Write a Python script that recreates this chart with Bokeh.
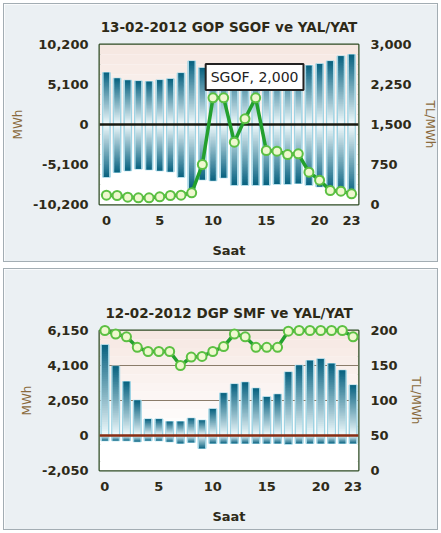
import numpy as np
from bokeh.plotting import figure
from bokeh.models import (Range1d, LinearAxis, FixedTicker, NumeralTickFormatter,
                          Label, BoxAnnotation, Span, ColumnDataSource)
from bokeh.layouts import column
from bokeh.embed import file_html
from bokeh.resources import INLINE

# ---------------- data ----------------
hours = list(range(24))
x_ticks = [0, 5, 10, 15, 20, 23]

top_title = "13-02-2012 GOP SGOF ve YAL/YAT"
top_yal = [6600, 5850, 5600, 5500, 5450, 5650, 5800, 6550, 8050, 7200, 7100, 7200,
           7300, 7300, 7300, 7300, 7300, 7400, 7400, 7500, 7700, 8050, 8700, 8900]
top_yat = [-6700, -6100, -5850, -5650, -5750, -5850, -6000, -6700, -8200, -7000, -7150, -6750,
           -7700, -7700, -7700, -7700, -7600, -7600, -7500, -7700, -7900, -8300, -8700, -9000]
top_sgof = [175, 169, 137, 125, 125, 144, 169, 175, 219, 750, 2000, 2000,
            1169, 1606, 2000, 1012, 1000, 937, 950, 606, 456, 262, 250, 200]
top_left_ticks = [-10200, -5100, 0, 5100, 10200]
top_right_ticks = [0, 750, 1500, 2250, 3000]
top_tooltip = "SGOF, 2,000"

bot_title = "12-02-2012 DGP SMF ve YAL/YAT"
bot_yal = [5300, 4050, 3150, 2050, 950, 950, 800, 800, 1000, 880, 1550, 2480,
           3000, 3100, 2750, 2250, 2400, 3700, 4100, 4380, 4480, 4200, 3800, 2950]
bot_yat = [-300, -300, -300, -350, -300, -300, -350, -450, -400, -750, -450, -450,
           -450, -450, -450, -450, -450, -500, -450, -450, -450, -450, -450, -450]
bot_smf = [200, 195, 191, 176, 170, 170, 170, 150, 162, 163, 170, 177,
           195, 191, 176, 176, 176, 199, 200, 200, 200, 200, 200, 191]
bot_left_ticks = [-2050, 0, 2050, 4100, 6150]
bot_right_ticks = [0, 50, 100, 150, 200]

FONT = "DejaVu Sans"
TEXT_DARK = "#2e2a18"
AX_BROWN = "#8a6a3c"


def lerp_hex(c0, c1, f):
    r = [int(round(a + (b - a) * f)) for a, b in zip(c0, c1)]
    return "#%02x%02x%02x" % tuple(r)


def grad_source(x, vals, n=40):
    xs, tops, bots, cols = [], [], [], []
    light = (244, 252, 254)
    dark = (8, 98, 128)
    for xi, v in zip(x, vals):
        for k in range(n):
            a = v * k / n
            b = v * min(k + 2.0, n) / n   # overlap to hide seams
            f = ((k + 0.5) / n) ** 0.95
            xs.append(xi)
            bots.append(a)
            tops.append(b)
            cols.append(lerp_hex(light, dark, f))
    return ColumnDataSource(dict(x=xs, top=tops, bottom=bots, color=cols))


def make_chart(title, yal, yat, line_vals, left_ticks, right_ticks, xpad,
               width, height, borders, zero_color, grid_vals, core_w, out_w):
    lo, hi = left_ticks[0], left_ticks[-1]
    p = figure(width=width, height=height, output_backend="svg", toolbar_location=None,
               x_range=Range1d(-xpad, 23 + xpad), y_range=Range1d(lo, hi),
               min_border_left=borders[0], min_border_right=borders[1],
               min_border_top=borders[2], min_border_bottom=borders[3],
               title=title)
    p.extra_y_ranges = {"right": Range1d(right_ticks[0], right_ticks[-1])}
    p.border_fill_color = "#ebf0f3"
    p.background_fill_color = "white"
    p.outline_line_color = "#2c4a22"
    p.outline_line_width = 2
    p.styles = {"border": "1px solid #a3adb3"}

    p.title.align = "center"
    p.title.text_font = FONT
    p.title.text_font_style = "bold"
    p.title.text_font_size = "13.5px"
    p.title.text_color = TEXT_DARK
    p.title.standoff = 20

    # background gradient bands (pink top -> white)
    nb = 16
    for i in range(nb):
        t = hi - (hi - lo) * i / nb
        b = hi - (hi - lo) * (i + 1) / nb
        f = min(1.0, i / (nb * 0.7))
        col = lerp_hex((246, 232, 226), (255, 255, 255), f)
        p.add_layout(BoxAnnotation(top=t, bottom=b, fill_color=col, fill_alpha=1,
                                   line_alpha=0, level="image"))

    p.xgrid.grid_line_color = None
    p.ygrid.grid_line_color = None
    for g in grid_vals:
        p.add_layout(Span(location=g, dimension="width", line_color="#8a7c6a",
                          line_width=1.2, level="underlay"))

    # bars with gradient
    for vals in (yal, yat):
        p.vbar(x=hours, top=vals, bottom=0, width=out_w, fill_color="#e6f5f9",
               line_color="#9fd3e3", line_width=1.5)
        src = grad_source(hours, vals)
        p.vbar(x="x", top="top", bottom="bottom", width=core_w, source=src,
               fill_color="color", line_color=None)

    p.add_layout(Span(location=0, dimension="width", line_color=zero_color,
                      line_width=2.5, level="glyph"))

    ln = p.line(hours, line_vals, y_range_name="right", line_color="#23a02e", line_width=3.5)
    ln.level = "overlay"
    sc = p.scatter(hours, line_vals, y_range_name="right", size=9, fill_color="#eff8cf",
                   line_color="#5cc043", line_width=2)
    sc.level = "overlay"

    # axes
    for ax in (p.xaxis[0], p.yaxis[0]):
        ax.axis_line_color = None
        ax.major_tick_line_color = None
        ax.minor_tick_line_color = None
        ax.major_label_text_font = FONT
        ax.major_label_text_font_style = "bold"
        ax.major_label_text_font_size = "13px"
        ax.major_label_text_color = TEXT_DARK
        ax.major_label_standoff = 5

    p.xaxis.ticker = FixedTicker(ticks=x_ticks)
    p.xaxis.axis_label = "Saat"
    p.xaxis.axis_label_text_font = FONT
    p.xaxis.axis_label_text_font_style = "bold"
    p.xaxis.axis_label_text_font_size = "13px"
    p.xaxis.axis_label_text_color = TEXT_DARK
    p.xaxis.axis_label_standoff = 15

    p.yaxis.ticker = FixedTicker(ticks=left_ticks)
    p.yaxis.formatter = NumeralTickFormatter(format="0,0")
    p.yaxis.axis_label = "MWh"
    p.yaxis.axis_label_text_font = FONT
    p.yaxis.axis_label_text_font_style = "normal"
    p.yaxis.axis_label_text_font_size = "12px"
    p.yaxis.axis_label_text_color = AX_BROWN
    p.yaxis.axis_label_standoff = 5

    ra = LinearAxis(y_range_name="right", ticker=FixedTicker(ticks=right_ticks),
                    formatter=NumeralTickFormatter(format="0,0"), axis_label="TL/MWh")
    ra.axis_line_color = None
    ra.major_tick_line_color = None
    ra.minor_tick_line_color = None
    ra.major_label_text_font = FONT
    ra.major_label_text_font_style = "bold"
    ra.major_label_text_font_size = "13px"
    ra.major_label_text_color = TEXT_DARK
    ra.major_label_standoff = 6
    ra.axis_label_text_font = FONT
    ra.axis_label_text_font_style = "normal"
    ra.axis_label_text_font_size = "12px"
    ra.axis_label_text_color = AX_BROWN
    ra.axis_label_standoff = 8
    p.add_layout(ra, "right")
    return p


p1 = make_chart(top_title, top_yal, top_yat, top_sgof, top_left_ticks, top_right_ticks,
                0.65, 435, 259, (95, 78, 40, 59), "#1a1a10", [], 0.5, 0.68)
p1.add_layout(Label(x=13.9, y=6050, text=top_tooltip, text_align="center",
                    text_baseline="middle", text_font=FONT, text_font_size="14px",
                    text_color="#222222", background_fill_color="white",
                    border_line_color="#222222", border_line_width=2, padding=5))

p2 = make_chart(bot_title, bot_yal, bot_yat, bot_smf, bot_left_ticks, bot_right_ticks,
                0.5, 435, 262, (86, 65, 61, 61), "#8a2c12", [2050, 4100], 0.55, 0.7)

layout = column(p1, p2, spacing=6)
layout.margin = (3, 0, 0, 3)
open("out.html", "w").write(file_html(layout, INLINE))
